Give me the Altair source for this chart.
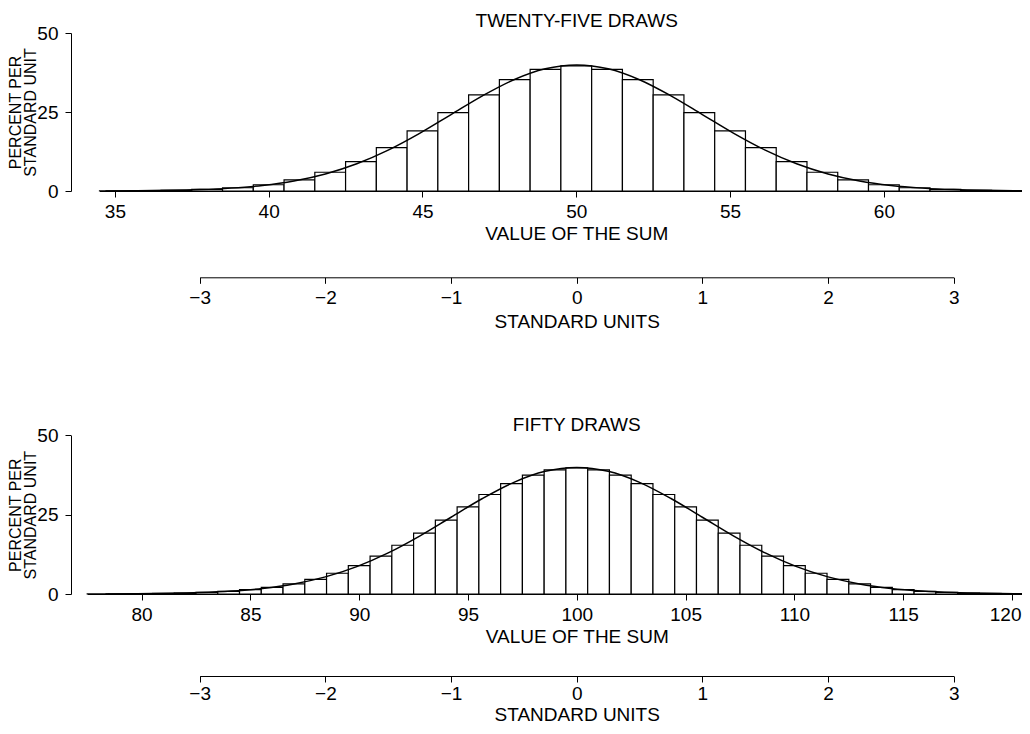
import altair as alt
import pandas as pd

FONT = "Liberation Sans"
FS = 19

# ---- data ----
# Top panel: value of the sum of 25 draws, bar heights (percent per standard unit)
sum25 = list(range(35, 66))
pct25 = [0.035, 0.09, 0.22, 0.50, 1.03, 1.97, 3.53, 5.93, 9.31, 13.73, 19.02,
         24.80, 30.45, 35.24, 38.46, 39.59, 38.46, 35.24, 30.45, 24.80, 19.02,
         13.73, 9.31, 5.93, 3.53, 1.97, 1.03, 0.50, 0.22, 0.09, 0.035]

# Bottom panel: value of the sum of 50 draws
sum50 = list(range(78, 123))
pct50 = [0.02, 0.05, 0.09, 0.17, 0.29, 0.51, 0.84, 1.35, 2.10, 3.17, 4.63,
         6.54, 8.97, 11.92, 15.37, 19.22, 23.32, 27.45, 31.37, 34.79, 37.46,
         39.16, 39.74, 39.16, 37.46, 34.79, 31.37, 27.45, 23.32, 19.22, 15.37,
         11.92, 8.97, 6.54, 4.63, 3.17, 2.10, 1.35, 0.84, 0.51, 0.29, 0.17,
         0.09, 0.05, 0.02]

# Normal curve, in standard units
curve_su = [-3.75, -3.5, -3.25, -3.0, -2.75, -2.5, -2.25, -2.0, -1.75, -1.5, -1.25,
            -1.0, -0.75, -0.5, -0.25, 0.0, 0.25, 0.5, 0.75, 1.0, 1.25, 1.5, 1.75,
            2.0, 2.25, 2.5, 2.75, 3.0, 3.25, 3.5, 3.75]
curve_pct = [0.035, 0.087, 0.20, 0.44, 0.91, 1.75, 3.17, 5.40, 8.63, 12.95, 18.26,
             24.20, 30.11, 35.21, 38.67, 39.89, 38.67, 35.21, 30.11, 24.20, 18.26,
             12.95, 8.63, 5.40, 3.17, 1.75, 0.91, 0.44, 0.20, 0.087, 0.035]

value_ticks_25 = [35, 40, 45, 50, 55, 60]
value_ticks_50 = [80, 85, 90, 95, 100, 105, 110, 115, 120]
su_ticks = [-3, -2, -1, 0, 1, 2, 3]
y_ticks = [0, 25, 50]

titles = ["TWENTY-FIVE DRAWS", "FIFTY DRAWS"]
x_title = "VALUE OF THE SUM"
su_title = "STANDARD UNITS"
y_title = ["PERCENT PER", "STANDARD UNIT"]

df25 = pd.DataFrame({"v": sum25, "pct": pct25})
df25["lo"] = df25["v"] - 0.5
df25["hi"] = df25["v"] + 0.5
df50 = pd.DataFrame({"v": sum50, "pct": pct50})
df50["lo"] = df50["v"] - 0.5
df50["hi"] = df50["v"] + 0.5
dfc = pd.DataFrame({"su": curve_su, "dens": curve_pct})

W, H = 951, 586
SU_RANGE = [128.7, 882.7]

common_axis = dict(grid=False, domainColor="black", tickColor="black",
                   labelColor="black", titleColor="black", labelFont=FONT,
                   labelFontSize=FS, titleFont=FONT,
                   titleFontWeight="normal", tickSize=6, domainWidth=1,
                   tickWidth=1, labelOverlap=False, labelBound=False,
                   labelFlush=False)

edge_align = {"condition": {"test": "datum.value == 120", "value": "right"}, "value": "center"}
edge_offset = {"condition": {"test": "datum.value == 120", "value": 9}, "value": 0}


def x_axis(values, offset, title, title_y=48, label_pad=5, edge=False):
    extra = dict(labelAlign=edge_align, labelOffset=edge_offset) if edge else {}
    return alt.Axis(values=values, orient="bottom", offset=offset, title=title,
                    labelPadding=label_pad, titleBaseline="alphabetic", titleY=title_y,
                    titleFontSize=FS, **extra, **common_axis)


def y_axis(center):
    return alt.Axis(values=y_ticks, orient="left", offset=0, title=y_title,
                    labelPadding=7, titleAngle=270, titleBaseline="alphabetic",
                    titleAlign="center", titleX=-51, titleY=center,
                    titleFontSize=16, titleLineHeight=15, **common_axis)


def yscale(yrange):
    return alt.Scale(domain=[0, 50], range=yrange, nice=False, zero=False)


def su_scale():
    return alt.Scale(domain=[-3, 3], range=SU_RANGE, nice=False, zero=False)


def panel(df, dom, rng, ticks, xoff, suoff, su_title_y, su_pad, yrange, title, ty, edge):
    bars = alt.Chart(df).mark_rect(fill="white", stroke="black", strokeWidth=1.2).encode(
        x=alt.X("lo:Q", scale=alt.Scale(domain=dom, range=rng, nice=False, zero=False),
                axis=x_axis(ticks, xoff, x_title, edge=edge)),
        x2="hi:Q",
        y=alt.Y("pct:Q", scale=yscale(yrange),
                axis=y_axis((yrange[0] + yrange[1]) / 2)),
        y2=alt.datum(0),
    )
    curve = alt.Chart(dfc).mark_line(color="black", strokeWidth=1.5, interpolate="monotone").encode(
        x=alt.X("su:Q", scale=su_scale(),
                axis=x_axis(su_ticks, suoff, su_title, su_title_y, su_pad)),
        y=alt.Y("dens:Q", scale=yscale(yrange), axis=None),
    )
    ttl = alt.Chart(pd.DataFrame({"su": [0], "pct": [ty], "t": [title]})).mark_text(
        font=FONT, fontSize=FS, baseline="alphabetic", align="center", color="black"
    ).encode(
        x=alt.X("su:Q", scale=su_scale(), axis=None),
        y=alt.Y("pct:Q", scale=yscale(yrange), axis=None),
        text="t:N",
    )
    return [bars, curve, ttl]


top = panel(df25, [34.5, 65.5], [28.5, 28.5 + 31 * 30.76], value_ticks_25,
            183 - H, 269.3 - H, 50, 5, [183, 25], titles[0], 52.0, False)
bottom = panel(df50, [77.5, 122.5], [16.2, 16.2 + 45 * 21.76], value_ticks_50,
               0, 668 - H, 44, 2, [586, 427.4], titles[1], 51.5, True)

chart = alt.layer(*top, *bottom).resolve_scale(x="independent", y="independent").properties(
    width=W, height=H,
    autosize=alt.AutoSizeParams(type="none"),
    padding={"left": 63, "top": 0, "right": 0, "bottom": 130},
).configure_view(stroke=None)

chart.save("out.html", embed_options={"renderer": "svg", "actions": False})
